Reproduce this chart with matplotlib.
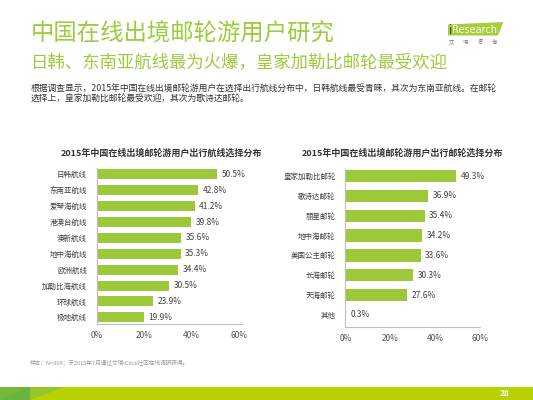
import matplotlib
matplotlib.use("Agg")
import matplotlib.pyplot as plt
from matplotlib.patches import Polygon, Rectangle

plt.rcParams['font.family'] = ['Noto Sans CJK SC', 'DejaVu Sans']

# ---- data ----
route_labels = ["日韩航线", "东南亚航线", "爱琴海航线", "港澳台航线", "澳新航线",
                "地中海航线", "欧洲航线", "加勒比海航线", "环球航线", "极地航线"]
route_values = [50.5, 42.8, 41.2, 39.8, 35.6, 35.3, 34.4, 30.5, 23.9, 19.9]

ship_labels = ["皇家加勒比邮轮", "歌诗达邮轮", "丽星邮轮", "地中海邮轮",
               "美国公主邮轮", "长海邮轮", "天海邮轮", "其他"]
ship_values = [49.3, 36.9, 35.4, 34.2, 33.6, 30.3, 27.6, 0.3]

x_ticks = [0, 20, 40, 60]
x_tick_labels = ["0%", "20%", "40%", "60%"]

title_main = "中国在线出境邮轮游用户研究"
title_sub = "日韩、东南亚航线最为火爆，皇家加勒比邮轮最受欢迎"
body_lines = ["根据调查显示，2015年中国在线出境邮轮游用户在选择出行航线分布中，日韩航线最受青睐，其次为东南亚航线。在邮轮",
              "选择上，皇家加勒比邮轮最受欢迎，其次为歌诗达邮轮。"]
chart1_title = "2015年中国在线出境邮轮游用户出行航线选择分布"
chart2_title = "2015年中国在线出境邮轮游用户出行邮轮选择分布"
footnote = "样本：N=999；于2015年7月通过艾瑞iClick社区在线调研获得。"
page_no = "28"

W, H = 533, 400
GREEN = "#9CCB3B"
BAR = "#9DC83A"
TXT = "#404040"

fig = plt.figure(figsize=(W / 100, H / 100), dpi=100)
fig.patch.set_facecolor("white")


def fx(x):
    return x / W


def fy(y):
    return 1 - y / H


def add_ax(x0, x1, ytop, ybot):
    return fig.add_axes([fx(x0), fy(ybot), (x1 - x0) / W, (ybot - ytop) / H])


def bar_chart(ax, labels, values, xmax, ylim, height, label_fs):
    pos = list(range(len(labels)))
    ax.barh(pos, values, height=height, color=BAR, edgecolor="none")
    ax.set_xlim(0, xmax)
    ax.set_ylim(*ylim)
    ax.set_yticks(pos)
    ax.set_yticklabels(labels, fontsize=label_fs, color=TXT)
    ax.set_xticks(x_ticks)
    ax.set_xticklabels(x_tick_labels, fontsize=6, color="#505050")
    ax.tick_params(axis="both", length=0)
    ax.tick_params(axis="y", pad=7)
    ax.tick_params(axis="x", pad=5)
    for s in ("top", "right"):
        ax.spines[s].set_visible(False)
    for s in ("left", "bottom"):
        ax.spines[s].set_color("#BFBFBF")
        ax.spines[s].set_linewidth(0.8)
    ax.set_facecolor("none")
    for p, v in zip(pos, values):
        ax.text(v + 2.0, p, f"{v:.1f}%", va="center", ha="left",
                fontsize=6, color=TXT)


# left chart
ax1 = add_ax(96.7, 96.7 + 61 * 2.375, 168, 324)
bar_chart(ax1, route_labels, route_values, 61, (9.42, -0.40), 0.63, 5.4)

# right chart
ax2 = add_ax(345.3, 480, 169.3, 326.7)
bar_chart(ax2, ship_labels, ship_values, 60, (7.59, -0.34), 0.62, 5.4)

# chart titles
fig.text(fx(161), fy(153), chart1_title, ha="center", va="center",
         fontsize=6.5, fontweight="bold", color="#333333")
fig.text(fx(402), fy(153), chart2_title, ha="center", va="center",
         fontsize=6.5, fontweight="bold", color="#333333")

# header
fig.text(fx(31), fy(34), title_main, ha="left", va="center",
         fontsize=16.8, color=GREEN)
fig.text(fx(31), fy(63.5), title_sub, ha="left", va="center",
         fontsize=12.5, color=GREEN)
fig.text(fx(31), fy(88), body_lines[0], ha="left", va="center",
         fontsize=6.35, color="#333333")
fig.text(fx(31), fy(98.5), body_lines[1], ha="left", va="center",
         fontsize=6.35, color="#333333")

# footnote
fig.text(fx(30), fy(363), footnote, ha="left", va="center",
         fontsize=4.1, color="#999999")

# logo
logo = Polygon([(fx(448), fy(24.5)), (fx(503.5), fy(22)), (fx(498), fy(35.5)),
                (fx(448), fy(35.5))], closed=True, transform=fig.transFigure,
               facecolor="#A6CE39", edgecolor="none")
fig.patches.append(logo)
fig.text(fx(448.5), fy(30), "i", ha="left", va="center", fontsize=8.5,
         color="#3A3A3A", family="DejaVu Sans")
fig.text(fx(452), fy(30), "Research", ha="left", va="center", fontsize=7.0,
         color="white", family="DejaVu Sans")
for i, ch in enumerate("艾瑞咨询"):
    fig.text(fx(451 + i * 14.5), fy(42), ch, ha="center", va="center",
             fontsize=3.8, color="#777777")

# bottom band
fig.patches.append(Rectangle((0, 0), 1, 13 / H, transform=fig.transFigure,
                             facecolor="#B7D200", edgecolor="none"))
fig.patches.append(Polygon([(fx(30), fy(387)), (fx(64), fy(387)), (fx(30), fy(400))],
                           closed=True, transform=fig.transFigure,
                           facecolor="#95C52A", edgecolor="none"))
fig.patches.append(Rectangle((0, 0), 30 / W, 13 / H, transform=fig.transFigure,
                             facecolor="#69B43C", edgecolor="none"))
fig.patches.append(Polygon([(0, fy(387)), (fx(30), fy(387)), (0, fy(400))],
                           closed=True, transform=fig.transFigure,
                           facecolor="#74B83A", edgecolor="none"))
fig.text(fx(505), fy(393.5), page_no, ha="center", va="center", fontsize=6,
         fontweight="bold", color="white")

fig.savefig("out.png", dpi=100, facecolor="white")
